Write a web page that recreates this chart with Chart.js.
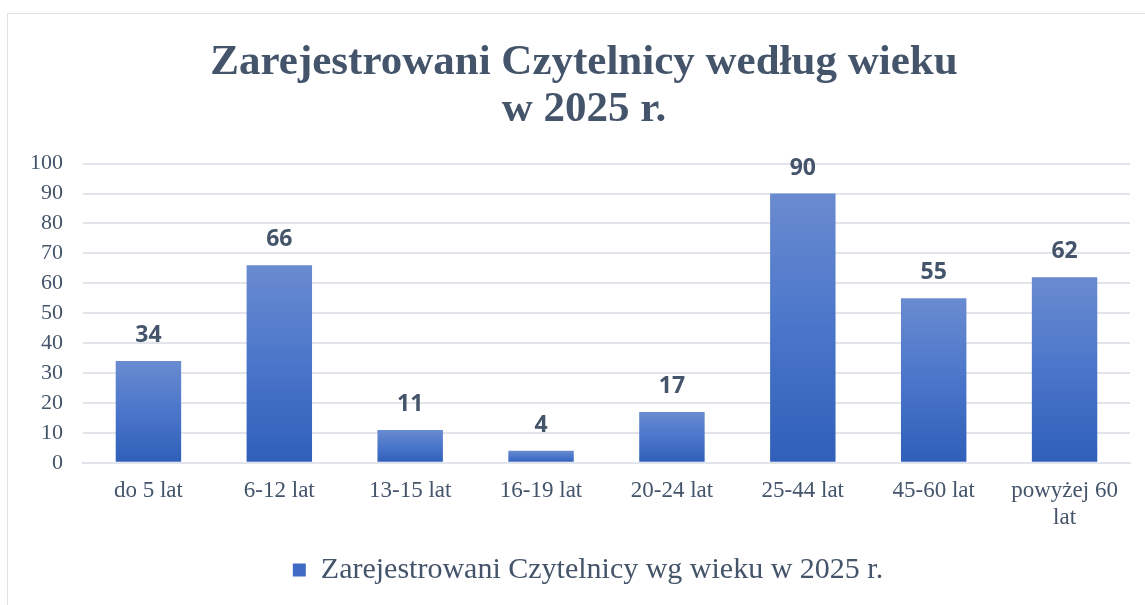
<!DOCTYPE html>
<html>
<head>
<meta charset="utf-8">
<script src="https://cdn.jsdelivr.net/npm/chart.js@4.4.1/dist/chart.umd.min.js"></script>
<style>
    html, body { margin: 0; padding: 0; background: #ffffff; }
    #frame { position: absolute; left: 7px; top: 13px; width: 1140px; height: 600px; border: 1px solid #dfe3e8; box-sizing: border-box; }
    #wrap { position: absolute; left: 0; top: 0; width: 1145px; height: 605px; }
</style>
</head>
<body>
<div id="frame"></div>
<div id="wrap"><canvas id="barChart"></canvas></div>
<script>
//数据
var categories = ["do 5 lat", "6-12 lat", "13-15 lat", "16-19 lat", "20-24 lat", "25-44 lat", "45-60 lat", ["powyżej 60", "lat"]];
var readers = [34, 66, 11, 4, 17, 90, 55, 62];
var seriesName = "Zarejestrowani Czytelnicy wg wieku w 2025 r.";
var titleLines = ["Zarejestrowani Czytelnicy według wieku", "w 2025 r."];

var textColor = "#44546a";
var gridColor = "#e1e5eb";
var serif = "'Liberation Serif', 'Times New Roman', serif";

Chart.defaults.font.family = serif;

//每根柱子自己的渐变
function barGradient(context) {
    var chart = context.chart;
    var area = chart.chartArea;
    if (!area || context.type !== "data") {
        return "#4472c4";
    }
    var yScale = chart.scales.y;
    var top = yScale.getPixelForValue(context.raw);
    var bottom = yScale.getPixelForValue(0);
    if (bottom - top < 1) top = bottom - 1;
    var g = chart.ctx.createLinearGradient(0, top, 0, bottom);
    g.addColorStop(0, "#6a8bd0");
    g.addColorStop(0.5, "#4a76ca");
    g.addColorStop(1, "#2f5fb9");
    return g;
}

//柱顶数值
var valueLabels = {
    id: "valueLabels",
    afterDatasetsDraw: function (chart) {
        var ctx = chart.ctx;
        var meta = chart.getDatasetMeta(0);
        ctx.save();
        ctx.font = "bold 23px 'Open Sans', 'DejaVu Sans', sans-serif";
        ctx.fillStyle = textColor;
        ctx.textAlign = "center";
        ctx.textBaseline = "bottom";
        meta.data.forEach(function (bar, i) {
            ctx.fillText(readers[i], bar.x, bar.y - 14);
        });
        ctx.restore();
    }
};

//标题和图例稍微右移（原图的框比画面宽）
var shiftBlocks = {
    id: "shiftBlocks",
    afterLayout: function (chart) {
        if (chart.titleBlock) {
            chart.titleBlock.left += 14;
            chart.titleBlock.right += 14;
        }
        if (chart.legend) {
            chart.legend.left += 18;
            chart.legend.right += 18;
        }
    }
};

var ctx = document.getElementById("barChart").getContext("2d");
var chart = new Chart(ctx, {
    type: "bar",
    data: {
        labels: categories,
        datasets: [{
            label: seriesName,
            data: readers,
            backgroundColor: barGradient,
            borderWidth: 0,
            categoryPercentage: 1.0,
            barPercentage: 0.5
        }]
    },
    options: {
        responsive: true,
        maintainAspectRatio: false,
        animation: false,
        layout: { padding: { left: 10, right: 15, top: 18, bottom: 10 } },
        plugins: {
            title: {
                display: true,
                text: titleLines,
                color: textColor,
                font: { family: serif, size: 43, weight: "bold", lineHeight: 1.1 },
                padding: { top: 21, bottom: 30 }
            },
            legend: {
                position: "bottom",
                labels: {
                    color: textColor,
                    font: { family: serif, size: 30 },
                    boxWidth: 13,
                    boxHeight: 13,
                    padding: 9,
                    generateLabels: function (c) {
                        return [{
                            text: seriesName,
                            fillStyle: "#3f6bc4",
                            strokeStyle: "#3f6bc4",
                            lineWidth: 0,
                            fontColor: textColor,
                            datasetIndex: 0
                        }];
                    }
                }
            },
            tooltip: { enabled: false }
        },
        scales: {
            x: {
                grid: { display: false, drawTicks: false },
                border: { display: true, color: gridColor, width: 2 },
                ticks: {
                    color: textColor,
                    font: { family: serif, size: 23 },
                    padding: 14,
                    maxRotation: 0,
                    autoSkip: false
                }
            },
            y: {
                min: 0,
                max: 100,
                grid: { color: gridColor, lineWidth: 2, drawTicks: false },
                border: { display: false },
                ticks: {
                    stepSize: 10,
                    autoSkip: false,
                    color: textColor,
                    font: { family: serif, size: 22 },
                    padding: 20
                }
            }
        }
    },
    plugins: [valueLabels, shiftBlocks]
});
</script>
</body>
</html>
